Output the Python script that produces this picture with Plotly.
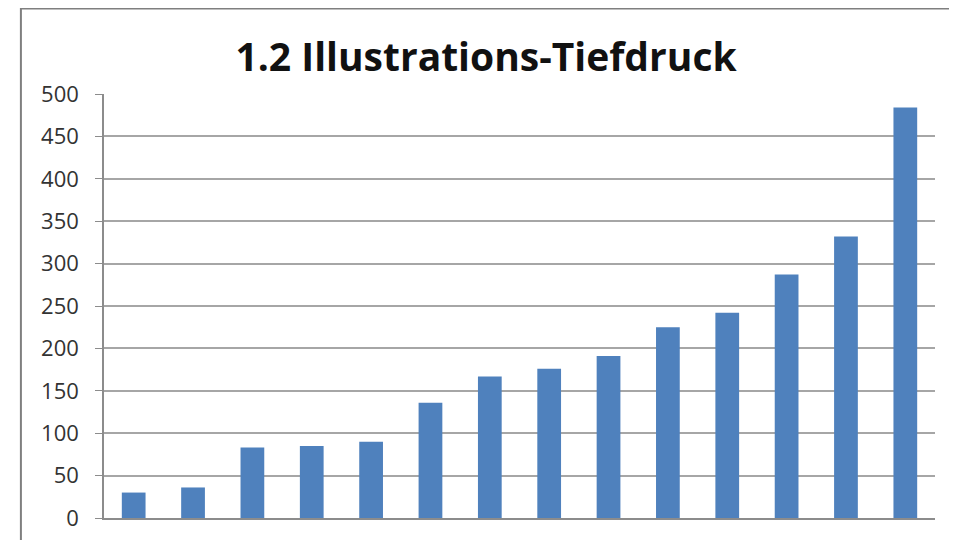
import plotly.graph_objects as go

categories = [str(i) for i in range(1, 15)]
values = [30, 36, 83, 85, 90, 136, 167, 176, 191, 225, 242, 287, 332, 484]
y_ticks = [0, 50, 100, 150, 200, 250, 300, 350, 400, 450, 500]
title_text = "1.2 Illustrations-Tiefdruck"

fig = go.Figure(go.Bar(x=categories, y=values, marker_color="#4f81bd",
                       marker_line_width=0))

fig.update_layout(
    width=957, height=540,
    margin=dict(l=96, r=30, t=86, b=30),
    paper_bgcolor="white", plot_bgcolor="white",
    bargap=0.6, showlegend=False,
    title=dict(text="<b>" + title_text + "</b>", x=0.4995, xanchor="center",
               y=0.909, yanchor="middle",
               font=dict(family="Open Sans", size=39, color="#111111")),
    font=dict(family="Open Sans", size=22, color="#333333"),
)
fig.update_xaxes(type="category", showticklabels=False, showgrid=False,
                 showline=True, linecolor="#8c8c8c", linewidth=1.5,
                 ticks="", range=[-0.5, 13.5])
fig.update_yaxes(range=[0, 500], tickvals=y_ticks, showgrid=True,
                 gridcolor="#a6a6a6", gridwidth=1.5,
                 showline=True, linecolor="#8c8c8c", linewidth=1.5,
                 ticks="outside", ticklen=7, tickcolor="#8c8c8c",
                 ticklabelstandoff=12, zeroline=False)
fig.add_shape(type="rect", xref="paper", yref="paper",
              x0=-0.1, x1=1.0216, y0=-0.2, y1=1.2016,
              line=dict(color="#7f7f7f", width=2), fillcolor="rgba(0,0,0,0)")
fig.write_html("out.html")
